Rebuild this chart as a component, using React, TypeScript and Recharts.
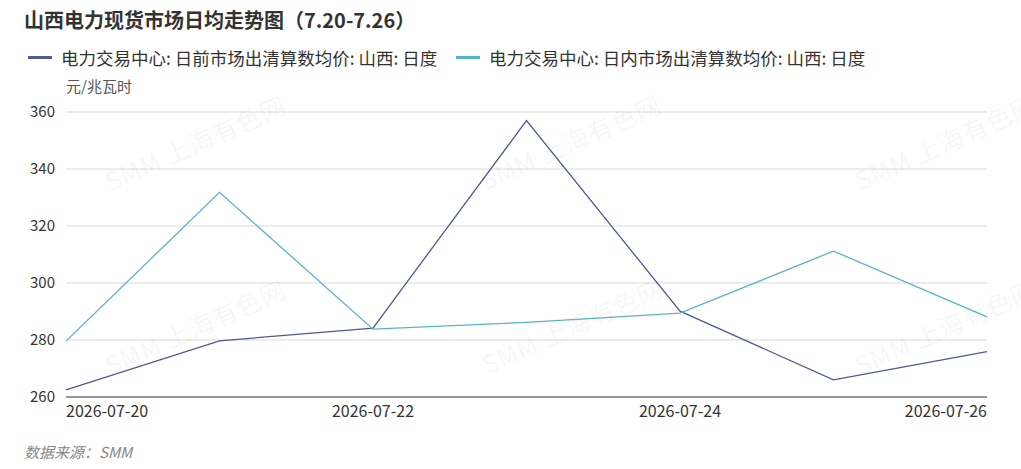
import React from 'react';
import { LineChart, Line, XAxis, YAxis, CartesianGrid } from 'recharts';

const dates = ['2026-07-20', '2026-07-21', '2026-07-22', '2026-07-23', '2026-07-24', '2026-07-25', '2026-07-26'];
const dayAhead = [262.5, 279.7, 284.2, 357.0, 290.1, 266.0, 275.9];
const intraday = [279.6, 331.8, 283.8, 286.2, 289.4, 311.2, 288.1];
const yTicks = [260, 280, 300, 320, 340, 360];

const seriesNames = [
  '电力交易中心: 日前市场出清算数均价: 山西: 日度',
  '电力交易中心: 日内市场出清算数均价: 山西: 日度'
];
const colors = ['#4e5a91', '#55b5c6'];
const legendLeft = [28, 456];

const data = dates.map((d, i) => ({ date: d, a: dayAhead[i], b: intraday[i] }));

const FONT = '"Noto Sans CJK SC", "Noto Sans", sans-serif';

const XTick = (props: any) => {
  const { x, y, payload } = props;
  let anchor = 'middle';
  if (payload.value === dates[0]) anchor = 'start';
  if (payload.value === dates[dates.length - 1]) anchor = 'end';
  return (
    <text x={x} y={y + 12} textAnchor={anchor} fill="#333" fontSize={16} fontFamily={FONT}>
      {payload.value}
    </text>
  );
};

const watermarks = [
  { x: 195, y: 141 },
  { x: 570, y: 140 },
  { x: 945, y: 140 },
  { x: 195, y: 325 },
  { x: 572, y: 324 },
  { x: 945, y: 325 }
];

export default function App() {
  return (
    <div style={{ position: 'absolute', left: 0, top: 0, width: 1021, height: 469, background: '#fff', fontFamily: FONT, overflow: 'hidden' }}>
      <div style={{ position: 'absolute', left: 24, top: 5, fontSize: 20, fontWeight: 'bold', color: '#333', whiteSpace: 'nowrap' }}>
        山西电力现货市场日均走势图（7.20-7.26）
      </div>

      {seriesNames.map((n, i) => (
        <div key={i} style={{ position: 'absolute', left: legendLeft[i], top: 45, display: 'flex', alignItems: 'center', fontSize: 17.5, color: '#333', whiteSpace: 'nowrap' }}>
          <div style={{ width: 24, height: 3, background: colors[i], marginRight: 9 }} />
          <span>{n}</span>
        </div>
      ))}

      <div style={{ position: 'absolute', left: 66, top: 75, fontSize: 15, color: '#555' }}>元/兆瓦时</div>

      <div style={{ position: 'absolute', left: 0, top: 0 }}>
        <LineChart width={1021} height={469} data={data} margin={{ top: 112, right: 34, left: 0, bottom: 42 }}>
          <CartesianGrid vertical={false} stroke="#e6e6e6" strokeWidth={1.5} />
          <XAxis
            dataKey="date"
            interval={1}
            height={30}
            tick={<XTick />}
            tickLine={false}
            axisLine={{ stroke: '#7a7c84', strokeWidth: 1.5 }}
          />
          <YAxis
            domain={[260, 360]}
            ticks={yTicks}
            width={66}
            tickLine={false}
            axisLine={false}
            tickSize={0}
            tickMargin={11}
            tick={{ fill: '#333', fontSize: 15, fontFamily: FONT }}
          />
          <Line dataKey="a" stroke={colors[0]} strokeWidth={1.3} dot={false} type="linear" isAnimationActive={false} />
          <Line dataKey="b" stroke={colors[1]} strokeWidth={1.3} dot={false} type="linear" isAnimationActive={false} />
        </LineChart>
      </div>

      {watermarks.map((w, i) => (
        <div
          key={i}
          style={{
            position: 'absolute',
            left: w.x - 120,
            top: w.y - 17,
            width: 240,
            textAlign: 'center',
            fontSize: 25,
            letterSpacing: 1,
            color: 'rgba(0,0,0,0.055)',
            transform: 'rotate(-24deg)',
            whiteSpace: 'nowrap',
            pointerEvents: 'none'
          }}
        >
          SMM 上海有色网
        </div>
      ))}

      <div style={{ position: 'absolute', left: 24, top: 441, fontSize: 15, fontStyle: 'italic', color: '#888' }}>数据来源：SMM</div>
    </div>
  );
}
